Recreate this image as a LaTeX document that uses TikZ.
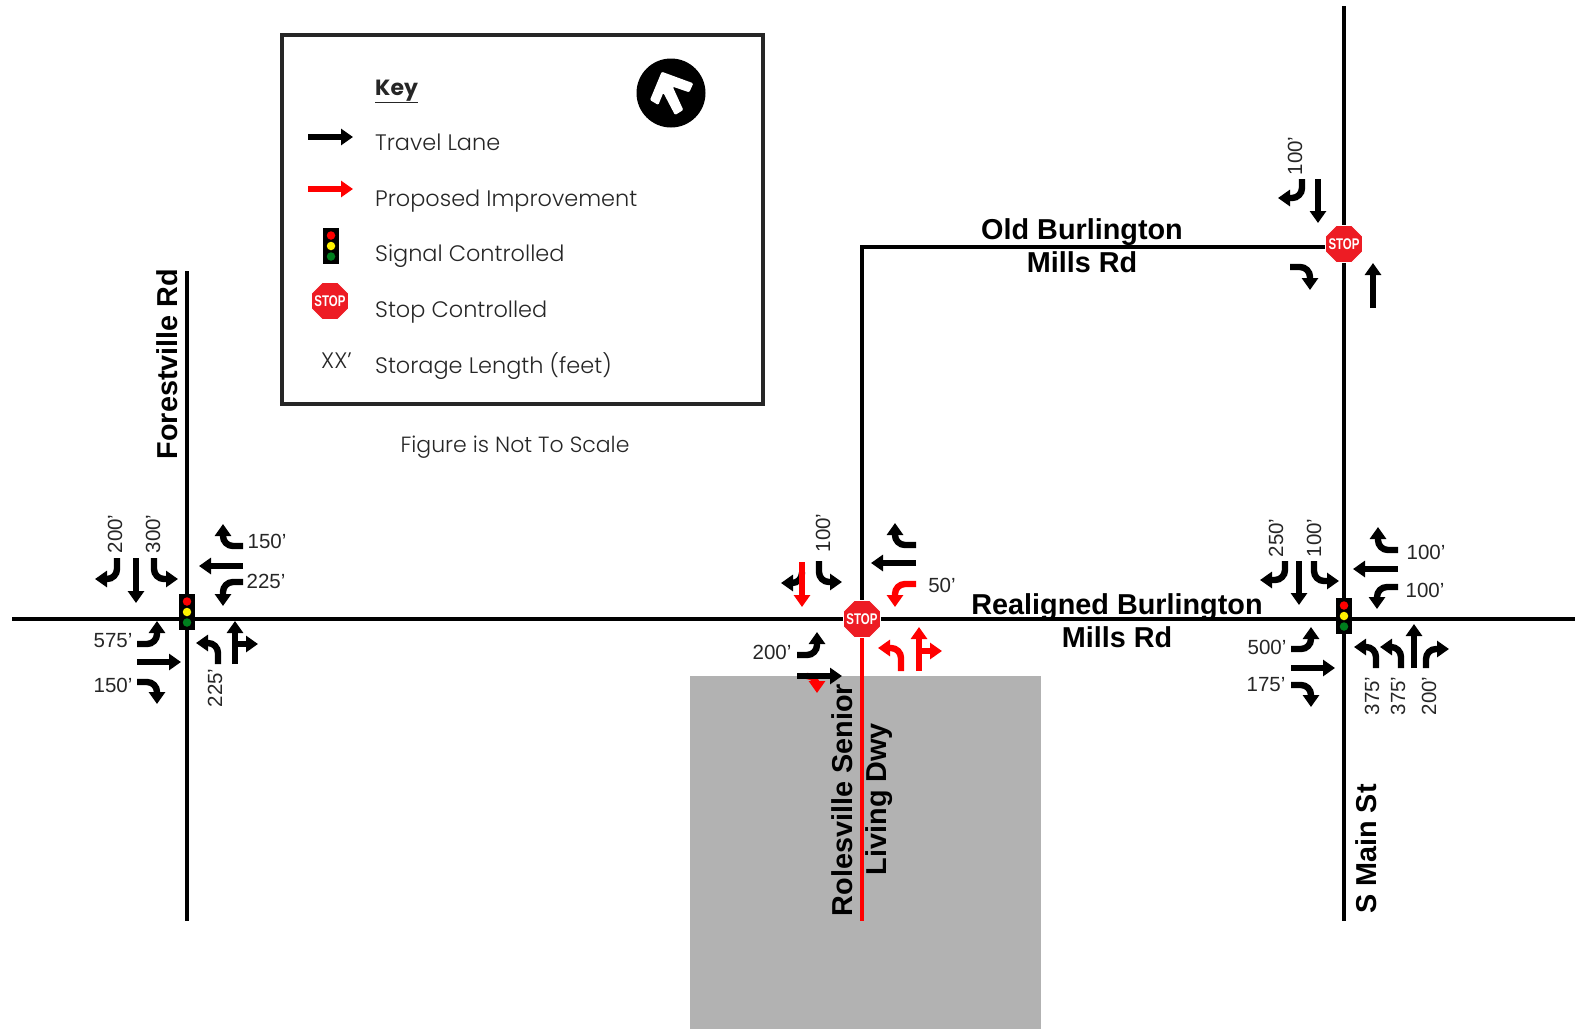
\documentclass[tikz,border=0pt]{standalone}
\usepackage{fontspec}
\usepackage{graphicx}
\setmainfont{Liberation Sans}
\newfontfamily\gothic{Poppins Light}
\newfontfamily\gothicb{Poppins}
\usetikzlibrary{arrows.meta,shapes.geometric}
\definecolor{stopred}{HTML}{ED1C24}
\definecolor{pavered}{HTML}{FF0000}
\definecolor{sitegray}{HTML}{B2B2B2}
\definecolor{sigyellow}{HTML}{FFF200}
\definecolor{siggreen}{HTML}{007F1E}
\tikzset{
  x=1pt,y=-1pt,
  road/.style={line width=3.6pt,draw=black},
  newroad/.style={line width=3.6pt,draw=pavered},
  lane/.style={line width=6.4pt,draw=black,rounded corners=10pt,-{Triangle[length=12pt,width=16pt]}},
  newlane/.style={lane,draw=pavered,fill=none,-{Triangle[length=12pt,width=16pt,fill=pavered]}},
  dist/.style={font=\fontsize{20.5}{22}\selectfont,inner sep=0pt,text=black!85},
  distv/.style={dist,rotate=90},
  rname/.style={font=\fontsize{28.8}{30}\selectfont\bfseries,inner sep=0pt},
  keytext/.style={font=\fontsize{22.4}{24}\selectfont\gothic,inner sep=0pt,anchor=base west,text=black!85},
  stopsign/.style={regular polygon,regular polygon sides=8,minimum size=40pt,inner sep=0pt,fill=stopred,draw=white,line width=.6pt},
  stoptxt/.style={inner sep=0pt,text=white,font=\fontsize{15.5}{15.5}\selectfont\bfseries},
  sigbox/.style={fill=black,draw=none,minimum width=16pt,minimum height=36pt,inner sep=0pt},
  lamp/.style={circle,minimum size=8.5pt,inner sep=0pt,draw=none},
}
\newcommand{\stopat}[3]{%
  \node[stopsign] (#1) at (#2,#3) {};
  \node[stoptxt] (#1t) at (#2,#3) {\scalebox{.74}[1]{STOP}};
}
\newcommand{\signalat}[3]{%
  \node[sigbox] (#1) at (#2,#3) {};
  \node[lamp,fill=red] (#1r) at (#2,#3-10.5) {};
  \node[lamp,fill=sigyellow] (#1y) at (#2,#3) {};
  \node[lamp,fill=siggreen] (#1g) at (#2,#3+10.5) {};
}
\begin{document}
\begin{tikzpicture}
\useasboundingbox (0,0) rectangle (1575,1029);
% site
\fill[sitegray] (690,676) rectangle (1041,1029);
% named road ends
\coordinate (mainW) at (12,619);
\coordinate (mainE) at (1575,619);
\coordinate (fN) at (187,271);
\coordinate (fS) at (187,921);
\coordinate (rS) at (862,921);
\coordinate (rX) at (862,619);
\coordinate (oC) at (862,247);
\coordinate (sN) at (1344,6);
\coordinate (sS) at (1344,921);
\draw[road] (mainW) -- (mainE);
\draw[road] (fN) -- (fS);
\draw[road,line cap=round] (rX) -- (oC) -- (1344,247);
\draw[road] (sN) -- (sS);
\draw[newroad] (rX) -- (rS);
% controls
\signalat{sigF}{187}{612}
\signalat{sigM}{1344}{616}
\stopat{stopR}{862}{619}
\stopat{stopO}{1344}{244}
% Forestville lanes
\draw[lane] (117,558) -- (117,579) -- (95,579);
\draw[lane] (136,558) -- (136,603);
\draw[lane] (154,558) -- (154,579) -- (178,579);
\draw[lane] (243,546) -- (223,546) -- (223,524);
\draw[lane] (243,566) -- (199,566);
\draw[lane] (243,582) -- (223,582) -- (223,606);
\draw[lane] (137,644) -- (157,644) -- (157,621);
\draw[lane] (137,662) -- (181,662);
\draw[lane] (137,682) -- (157,682) -- (157,704);
\draw[lane] (218,664) -- (218,643) -- (196,643);
\draw[lane] (235,664) -- (235,644) -- (235,621);
\draw[lane,rounded corners=0pt] (235,644) -- (258,644);
% Rolesville lanes
\draw[lane] (802,572) -- (802,583) -- (781,583);
\draw[newlane] (802,562) -- (802,607);
\draw[lane] (819,561) -- (819,582) -- (842,582);
\draw[lane] (916,545) -- (895,545) -- (895,523);
\draw[lane] (916,563) -- (871,563);
\draw[newlane] (916,584) -- (895,584) -- (895,607);
\draw[lane] (797,655) -- (817,655) -- (817,632);
\draw[newlane] (808,676) -- (817,676) -- (817,693);
\draw[lane] (797,676) -- (842,676);
\draw[newlane] (901,671) -- (901,648) -- (878,648);
\draw[newlane] (919,671) -- (919,627);
\draw[newlane,rounded corners=0pt] (919,651) -- (942,651);
% Main St lanes
\draw[lane] (1285,561) -- (1285,580) -- (1260,580);
\draw[lane] (1299,561) -- (1299,605);
\draw[lane] (1314,561) -- (1314,581) -- (1339,581);
\draw[lane] (1398,550) -- (1378,550) -- (1378,527);
\draw[lane] (1398,569) -- (1353,569);
\draw[lane] (1398,587) -- (1377,587) -- (1377,609);
\draw[lane] (1291,649) -- (1311,649) -- (1311,627);
\draw[lane] (1291,668) -- (1335,668);
\draw[lane] (1291,685) -- (1311,685) -- (1311,707);
\draw[lane] (1376,668) -- (1376,647) -- (1354,647);
\draw[lane] (1401,668) -- (1401,647) -- (1380,647);
\draw[lane] (1414,668) -- (1414,624);
\draw[lane] (1426,668) -- (1426,649) -- (1449,649);
% Old Burlington lanes
\draw[lane] (1302,179) -- (1302,198) -- (1278,198);
\draw[lane] (1318,179) -- (1318,223);
\draw[lane] (1290,267) -- (1310,267) -- (1310,290);
\draw[lane] (1373,308) -- (1373,263);
% storage lengths
\node[distv] (d01) at (115,534) {200’};
\node[distv] (d02) at (153,534) {300’};
\node[dist] (d03) at (267,541) {150’};
\node[dist] (d04) at (266,581) {225’};
\node[dist] (d05) at (113,641) {575’};
\node[dist] (d06) at (113,685) {150’};
\node[distv] (d07) at (215,688) {225’};
\node[distv] (d08) at (823,533) {100’};
\node[dist] (d09) at (772,652) {200’};
\node[dist] (d10) at (942,585) {50’};
\node[distv] (d11) at (1276,538) {250’};
\node[distv] (d12) at (1314,538) {100’};
\node[dist] (d13) at (1426,552) {100’};
\node[dist] (d14) at (1425,590) {100’};
\node[dist] (d15) at (1267,647) {500’};
\node[dist] (d16) at (1266,685) {175’};
\node[distv] (d17) at (1372,696) {375’};
\node[distv] (d18) at (1398,696) {375’};
\node[distv] (d19) at (1429,696) {200’};
\node[distv] (d20) at (1295,156) {100’};
% road names
\node[rname] (n1) at (1082,232) {Old Burlington};
\node[rname] (n2) at (1082,262) {Mills Rd};
\node[rname] (n3) at (1117,607) {Realigned Burlington};
\node[rname] (n4) at (1117,637) {Mills Rd};
\node[rname,rotate=90] (n5) at (167,364) {Forestville Rd};
\node[rname,rotate=90] (n6) at (1366,849) {S Main St};
\node[rname,rotate=90] (n7) at (842,800) {Rolesville Senior};
\node[rname,rotate=90] (n8) at (879,799) {Living Dwy};
% key
\draw[line width=4pt,draw=black!85] (282,35) rectangle (763,404);
\node[keytext,font=\fontsize{22}{24}\selectfont\gothicb\bfseries] (k0) at (375,95) {\underline{Key}};
\node[keytext] (k1) at (375,150) {Travel Lane};
\node[keytext] (k2) at (375,206) {Proposed Improvement};
\node[keytext] (k3) at (375,261) {Signal Controlled};
\node[keytext] (k4) at (375,317) {Stop Controlled};
\node[keytext] (k5) at (375,373) {Storage Length (feet)};
\node[keytext] (k6) at (321,368) {XX’};
\coordinate (ka) at (308,137); \coordinate (kb) at (353,137);
\coordinate (kc) at (308,189); \coordinate (kd) at (353,189);
\draw[lane] (ka) -- (kb);
\draw[newlane] (kc) -- (kd);
\signalat{sigK}{331}{246}
\stopat{stopK}{330}{301}
\node[circle,fill=black,minimum size=69pt,inner sep=0pt] (north) at (671,93) {};
\fill[white,rounded corners=1.2pt] (661.7,71.7) -- (693.3,83.3) -- (689.3,92.3) -- (672.7,86.7) -- (683.3,110) -- (675,115) -- (663.3,92.7) -- (658.3,105) -- (650,100) -- cycle;
\node[font=\fontsize{22}{24}\selectfont\gothic,inner sep=0pt,text=black!85] (fig) at (515,447) {Figure is Not To Scale};
\end{tikzpicture}
\end{document}
